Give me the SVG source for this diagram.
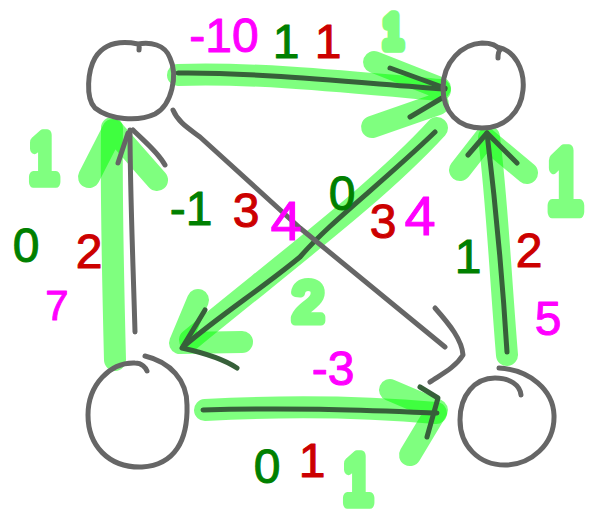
<svg xmlns="http://www.w3.org/2000/svg" width="589" height="517" viewBox="0 0 589 517">
<style>
.node{fill:none;stroke:#666;stroke-width:5;stroke-linecap:round;stroke-linejoin:round}
.hl{fill:none;stroke:#00ff00;stroke-opacity:0.5;stroke-width:22;stroke-linecap:round;stroke-linejoin:round}
.dk{fill:none;stroke:#37603a;stroke-width:5;stroke-linecap:round;stroke-linejoin:round}
.gr{fill:none;stroke:#666;stroke-width:5;stroke-linecap:round;stroke-linejoin:round}
.lbl{font-family:"Liberation Sans",Arial,sans-serif;font-size:48px;text-anchor:middle;stroke-width:1;stroke-linejoin:round}
.mag{fill:#ff00ff;stroke:#ff00ff}
.grn{fill:#008000;stroke:#008000}
.red{fill:#cc0000;stroke:#cc0000}
.hlt{fill:#80ff80;stroke:#80ff80;stroke-width:9;stroke-linejoin:round;stroke-linecap:round;font-family:"Liberation Sans",Arial,sans-serif;text-anchor:middle}
</style>
<rect width="589" height="517" fill="#fff"/>
<g id="connectors">
  <g id="e-tl-tr">
    <path class="hl" d="M178 75 C250 72 350 82 440 90"/>
    <path class="hl" d="M374 62 L440 88 M372 127 L438 104"/>
    <path class="dk" d="M178 73 C250 72 350 82 445 89"/>
    <path class="dk" d="M390 68 L445 88 M410 117 L442 98"/>
  </g>
  <g id="e-tr-bl">
    <path class="hl" d="M437 128 C380 190 300 250 190 340"/>
    <path class="hl" d="M198 300 L180 343 L242 342"/>
    <path class="dk" d="M435 132 C380 185 330 222 300 257 C260 290 220 315 183 347"/>
    <path class="dk" d="M205 310 L182 348 C200 352 222 358 237 368"/>
  </g>
  <g id="e-tl-br">
    <path class="gr" d="M173 110 C178 122 188 128 200 137 L300 228 L445 347"/>
    <path class="gr" d="M435 308 C450 325 462 340 463 355 C455 368 440 375 430 382"/>
  </g>
  <g id="e-bl-tl">
    <path class="hl" d="M115 360 C113 280 111 200 112 128"/>
    <path class="hl" d="M89 177 L113 130 L157 180"/>
    <path class="gr" d="M135 332 C133 260 130 190 130 130"/>
    <path class="gr" d="M118 163 L128 133 M133 130 C145 142 158 152 165 165"/>
  </g>
  <g id="e-bl-br">
    <path class="hl" d="M205 410 C300 405 380 408 436 413"/>
    <path class="hl" d="M390 390 L437 410 L410 455"/>
    <path class="dk" d="M203 410 C300 407 380 411 437 413"/>
    <path class="dk" d="M420 387 L438 398 L427 437"/>
  </g>
  <g id="e-br-tr">
    <path class="hl" d="M507 355 C500 270 497 200 489 137"/>
    <path class="hl" d="M460 170 L485 138 L527 173"/>
    <path class="dk" d="M507 352 C502 270 495 200 487 133"/>
    <path class="dk" d="M468 155 L487 133 L517 163"/>
  </g>
</g>
<g id="node-tl">
  <path class="node" d="M138 44 C150 42 165 44 170 58 C178 75 172 105 155 114 C138 122 110 120 95 108 C85 98 88 70 95 58 C103 45 118 40 138 44 C140 46 139 49 139 50"/>
</g>
<g id="node-tr">
  <path class="node" d="M497 47 C515 50 525 70 523 90 C521 112 505 128 482 128 C458 128 443 112 443 88 C443 62 462 44 482 43 C490 43 497 45 500 50 C498 52 498 55 498 58"/>
</g>
<g id="node-bl">
  <path class="node" d="M145 356 C170 362 187 380 187 405 C188 440 175 465 142 467 C108 468 88 445 88 415 C88 385 110 362 135 363 C142 363 146 368 147 371"/>
</g>
<g id="node-br">
  <path class="node" d="M499 368 C530 370 553 390 554 415 C555 445 530 465 505 465 C478 465 460 445 460 420 C460 395 475 378 495 378 C510 378 520 385 521 395"/>
</g>
<g id="labels">
  <text class="lbl mag" x="224" y="52">-10</text>
  <text class="lbl grn" x="286" y="58">1</text>
  <text class="lbl red" x="328" y="58">1</text>
  <text class="lbl grn" x="26" y="262">0</text>
  <text class="lbl red" x="89" y="268">2</text>
  <text class="lbl mag" x="57" y="320" style="font-size:42px">7</text>
  <text class="lbl grn" x="191" y="225">-1</text>
  <text class="lbl red" x="246" y="227">3</text>
  <text class="lbl mag" x="286" y="240" style="font-size:56px">4</text>
  <text class="lbl grn" x="342" y="210">0</text>
  <text class="lbl red" x="383" y="238">3</text>
  <text class="lbl mag" x="420" y="235" style="font-size:56px">4</text>
  <text class="lbl grn" x="468" y="273">1</text>
  <text class="lbl red" x="529" y="267">2</text>
  <text class="lbl mag" x="548" y="335">5</text>
  <text class="lbl mag" x="333" y="385">-3</text>
  <text class="lbl grn" x="267" y="483">0</text>
  <text class="lbl red" x="312" y="477">1</text>
  <text class="hlt" x="308" y="321" style="font-size:56px">2</text>
  <text class="hlt" transform="translate(44,182) scale(1,1.3)" style="font-size:52px">1</text>
  <text class="hlt" transform="translate(393,47) scale(1,1.3)" style="font-size:34px">1</text>
  <text class="hlt" transform="translate(565,212) scale(1,1.4)" style="font-size:64px">1</text>
  <text class="hlt" transform="translate(358,503) scale(1,1.3)" style="font-size:52px">1</text>
</g>
</svg>
